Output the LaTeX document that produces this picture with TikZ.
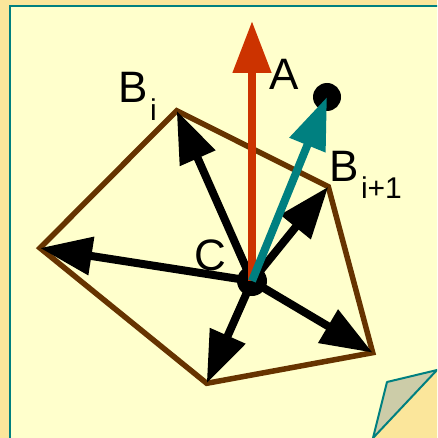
\documentclass[tikz,border=0pt]{standalone}
\usepackage{fontspec}
\setmainfont{Liberation Sans}
\usetikzlibrary{arrows.meta}
\definecolor{outerbg}{HTML}{FBE69B}
\definecolor{innerbg}{HTML}{FFFFCC}
\definecolor{frameteal}{HTML}{008080}
\definecolor{vecred}{HTML}{CC3300}
\definecolor{polybrown}{HTML}{663300}
\definecolor{curlgray}{HTML}{CCCCA8}
\newcommand{\subsz}{\fontsize{30}{30}\selectfont}
\begin{document}
\begin{tikzpicture}[x=1pt,y=-1pt,
  vec/.style={line width=8pt,-{Triangle[length=52pt,width=37pt]}},
  polyedge/.style={draw=polybrown,line width=5.5pt,line join=miter},
  lbl/.style={anchor=base west,inner sep=0pt,font=\fontsize{44}{44}\selectfont},
  dot/.style={circle,fill=black,inner sep=0pt}]
\useasboundingbox (0,0) rectangle (437,438);
\clip (0,0) rectangle (437,438);
% page background and sheet
\fill[outerbg] (0,0) rectangle (437,438);
\draw[frameteal,line width=2pt,fill=innerbg] (10,6) rectangle (480,480);
% page curl
\fill[outerbg] (443.4,363.2) -- (366.6,444.8) -- (450,450) -- cycle;
\draw[frameteal,line width=2pt,fill=curlgray,line join=round]
  (387,382) -- (443.4,368.5) -- (437,370) -- (373,438) -- cycle;
% polygon vertices
\coordinate (Vbi) at (176.7,110.7);
\coordinate (Vbj) at (328.3,186.7);
\coordinate (Vr) at (372.7,352.7);
\coordinate (Vb) at (206.7,383.3);
\coordinate (Vl) at (40,248);
\coordinate (Rtip) at (252,21);
\draw[polyedge] (Vbi) -- (Vbj) -- (Vr) -- (Vb) -- (Vl) -- cycle;
% points
\node[dot,minimum size=30pt] (C) at (252,281) {};
\node[dot,minimum size=28pt] (A) at (327,97) {};
% black vectors
\draw[vec] (C.center) -- (Vbi);
\draw[vec] (C.center) -- (Vbj);
\draw[vec] (C.center) -- (Vr);
\draw[vec] (C.center) -- (Vb);
\draw[vec] (C.center) -- (Vl);
% red and teal vectors
\draw[vec,vecred] (C.center) -- (Rtip);
\draw[vec,frameteal] (C.center) -- (A.center);
% labels
\node[lbl] (labA) at (269,90) {A};
\node[lbl] (labC) at (194.5,270) {C};
\node[lbl] (labBi) at (118.5,103) {B\hspace{2pt}\raisebox{-18pt}{\subsz i}};
\node[lbl] (labBj) at (329.5,181.7) {B\hspace{2pt}\raisebox{-16.5pt}{\subsz i+1}};
\end{tikzpicture}
\end{document}
